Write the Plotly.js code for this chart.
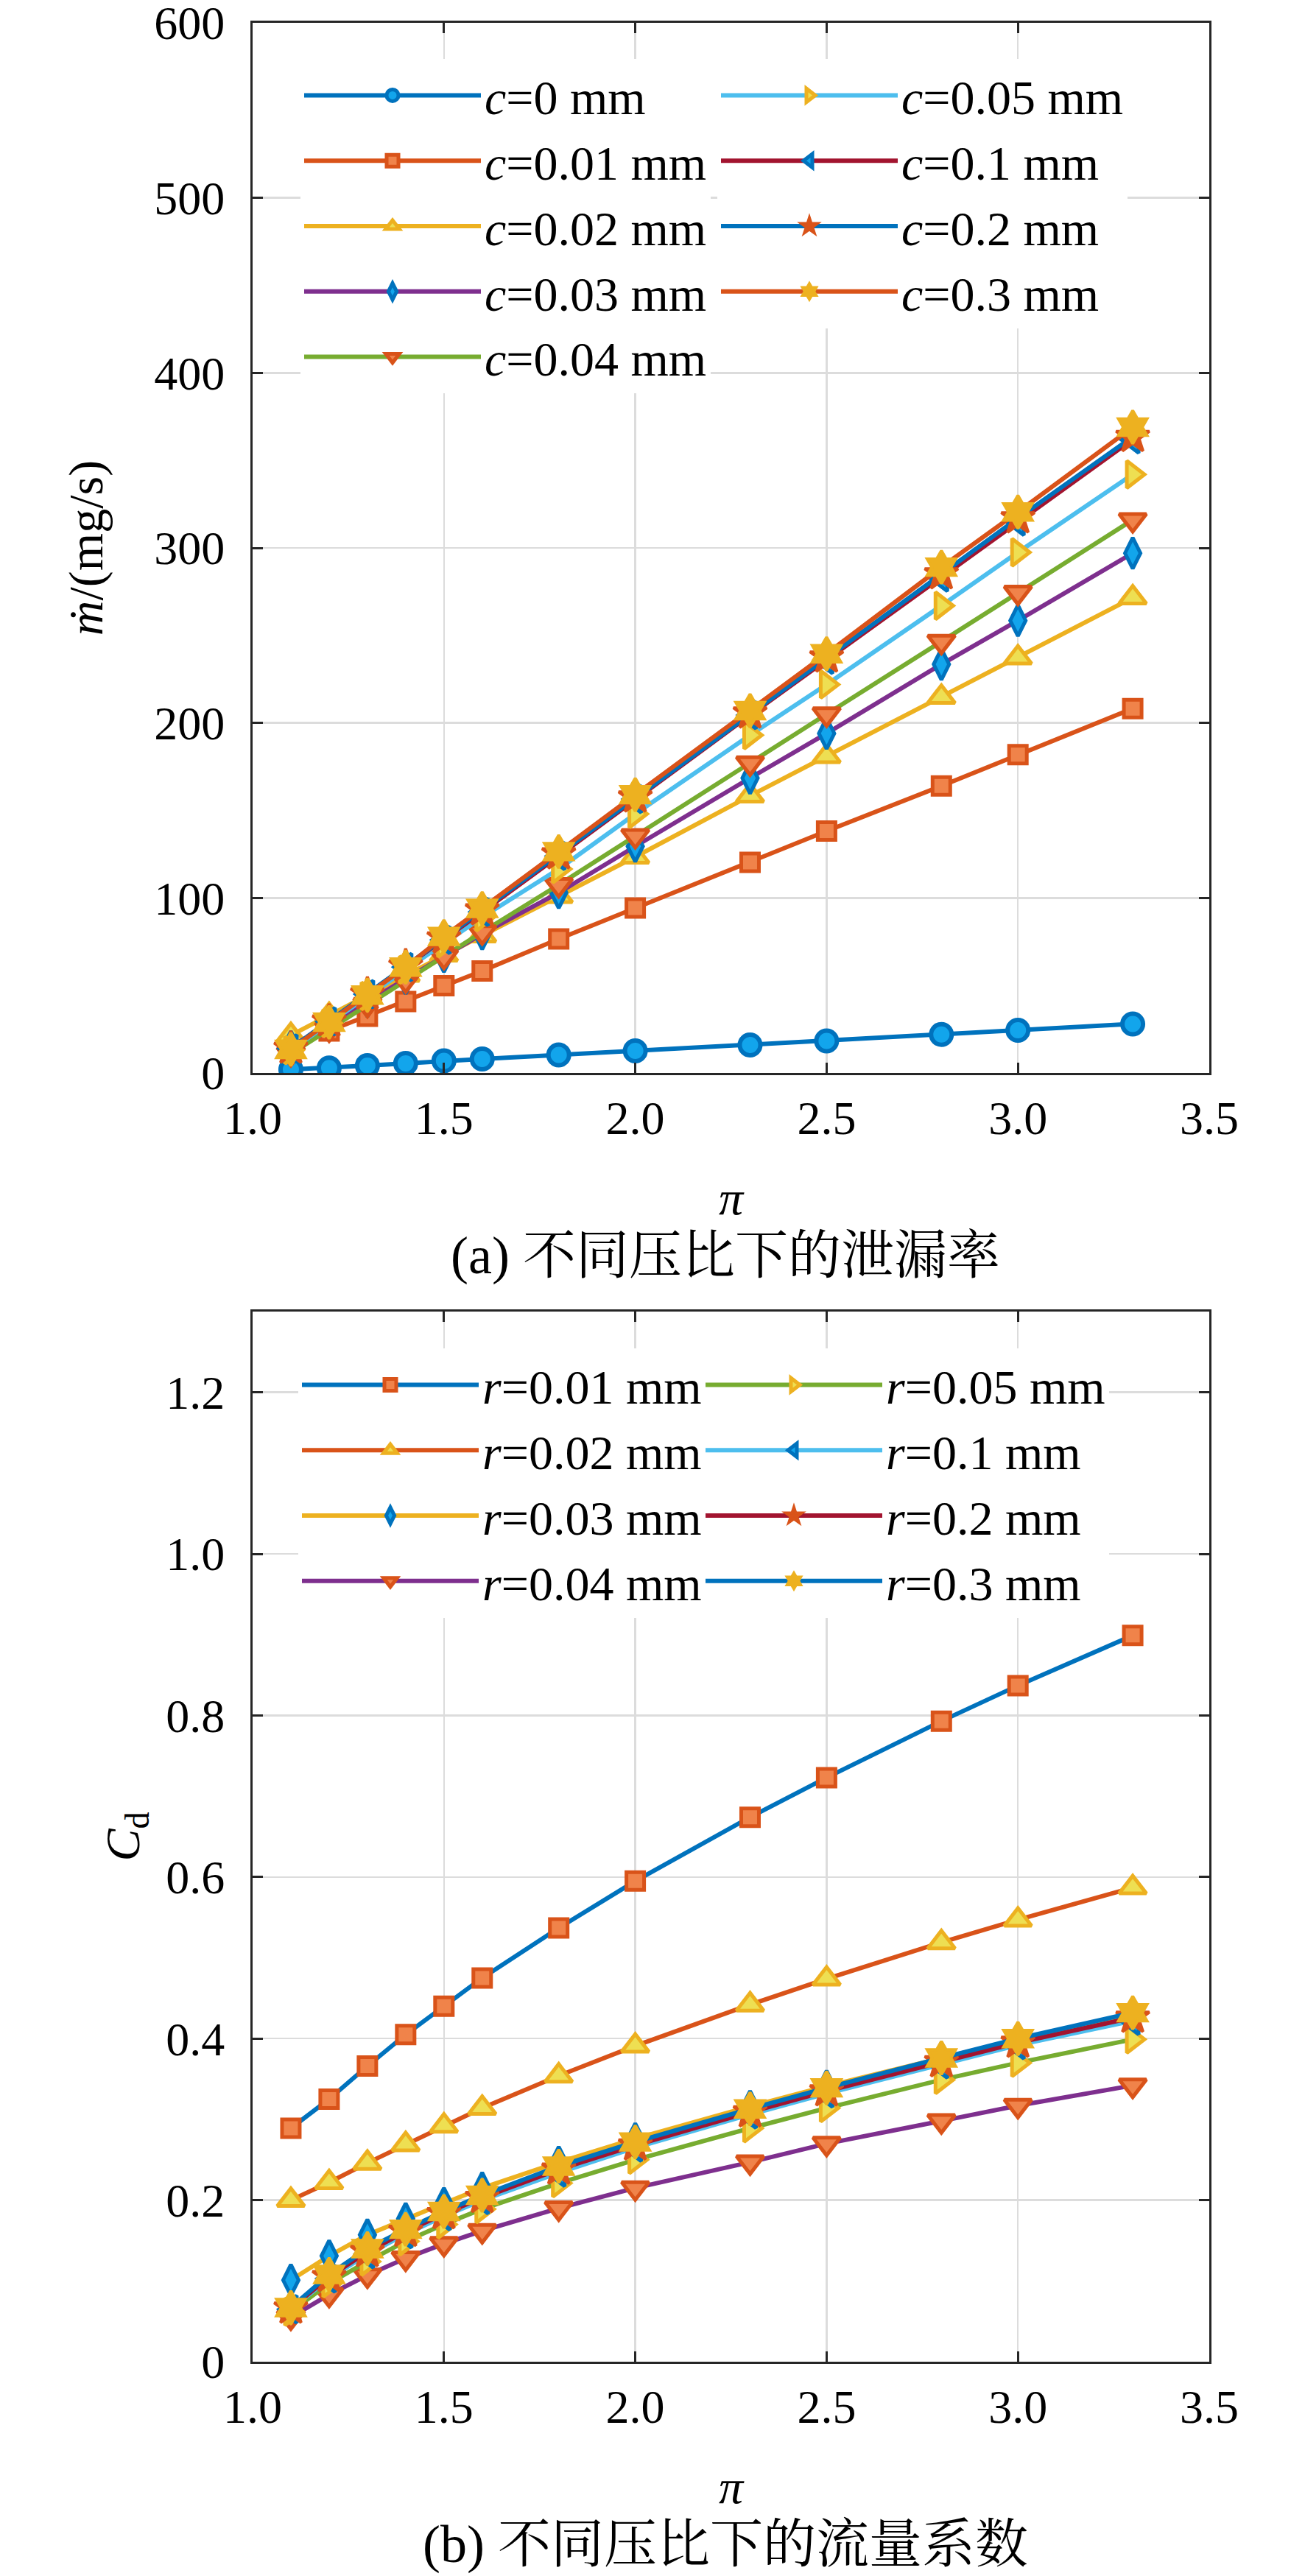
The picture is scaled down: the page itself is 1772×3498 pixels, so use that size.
<!DOCTYPE html>
<html>
<head>
<meta charset="utf-8">
<script src="https://cdn.plot.ly/plotly-3.0.1.min.js"></script>
<style>html,body{margin:0;padding:0;background:#fff;}</style>
</head>
<body>
<div id="chart" style="width:1772px;height:3498px;"></div>
<script>
// ---------- data ----------
const piVals = [1.1, 1.2, 1.3, 1.4, 1.5, 1.6, 1.8, 2.0, 2.3, 2.5, 2.8, 3.0, 3.3];

// (a) leakage rate, mg/s
const leakNames = ['<i>c</i>=0 mm','<i>c</i>=0.01 mm','<i>c</i>=0.02 mm','<i>c</i>=0.03 mm','<i>c</i>=0.04 mm',
                   '<i>c</i>=0.05 mm','<i>c</i>=0.1 mm','<i>c</i>=0.2 mm','<i>c</i>=0.3 mm'];
const leak_c0    = [2.0, 2.8, 4.2, 5.5, 6.9, 8.0, 10.3, 12.6, 16.0, 18.3, 22.0, 24.4, 28.0];
const leak_c001  = [15.5, 24, 32.4, 40.8, 49.9, 58.3, 76.6, 94.3, 120.3, 138.2, 164.0, 181.9, 208.2];
const leak_c002  = [21.5, 33, 44.5, 56, 67.5, 78.5, 101, 123.5, 158.4, 180.9, 214.8, 237.3, 271.6];
const leak_c003  = [15, 28, 41, 54, 66.5, 79.5, 103, 129.5, 168.5, 194, 233.5, 258.5, 297];
const leak_c004  = [11, 25, 39, 53, 66.5, 80.5, 107.5, 135.5, 177, 205, 246.5, 274.5, 316];
const leak_c005  = [13, 28.5, 44, 59, 74, 89, 116.5, 148, 193, 222, 267, 297.5, 342];
const leak_c01   = [14, 29.5, 45, 60.5, 76, 92, 124, 156.5, 204.5, 236, 283, 315, 362];
const leak_c02   = [14, 29.5, 45, 61, 77, 93, 125, 157.5, 205.5, 237.5, 285, 317, 363.5];
const leak_c03   = [13.5, 29, 44.5, 60.5, 78, 94, 126.5, 159, 207, 239.5, 289, 320.5, 369];

// (b) discharge coefficient
const cdNames = ['<i>r</i>=0.01 mm','<i>r</i>=0.02 mm','<i>r</i>=0.03 mm','<i>r</i>=0.04 mm',
                 '<i>r</i>=0.05 mm','<i>r</i>=0.1 mm','<i>r</i>=0.2 mm','<i>r</i>=0.3 mm'];
const cd_r001 = [0.289, 0.325, 0.366, 0.405, 0.440, 0.475, 0.537, 0.595, 0.674, 0.723, 0.793, 0.837, 0.899];
const cd_r002 = [0.200, 0.222, 0.246, 0.269, 0.292, 0.314, 0.354, 0.391, 0.442, 0.474, 0.519, 0.547, 0.587];
const cd_r003 = [0.101, 0.131, 0.157, 0.177, 0.196, 0.215, 0.247, 0.276, 0.316, 0.341, 0.376, 0.399, 0.430];
const cd_r004 = [0.055, 0.083, 0.107, 0.128, 0.146, 0.162, 0.190, 0.215, 0.247, 0.270, 0.298, 0.317, 0.342];
const cd_r005 = [0.062, 0.097, 0.124, 0.149, 0.170, 0.189, 0.221, 0.250, 0.289, 0.314, 0.349, 0.370, 0.399];
const cd_r01  = [0.065, 0.103, 0.133, 0.158, 0.180, 0.200, 0.234, 0.265, 0.306, 0.332, 0.368, 0.392, 0.422];
const cd_r02  = [0.066, 0.105, 0.136, 0.161, 0.183, 0.203, 0.238, 0.268, 0.309, 0.335, 0.371, 0.395, 0.426];
const cd_r03  = [0.067, 0.108, 0.140, 0.164, 0.186, 0.206, 0.242, 0.272, 0.313, 0.339, 0.376, 0.400, 0.432];

const xTickVals = [1.0, 1.5, 2.0, 2.5, 3.0, 3.5];
const xTickText = ['1.0', '1.5', '2.0', '2.5', '3.0', '3.5'];
const y1TickVals = [0, 100, 200, 300, 400, 500, 600];
const y2TickVals = [0, 0.2, 0.4, 0.6, 0.8, 1.0, 1.2];
const y2TickText = ['0', '0.2', '0.4', '0.6', '0.8', '1.0', '1.2'];

// ---------- styles ----------
const C = {B:'#0072BD', O:'#D95319', Y:'#EDB120', P:'#7E2F8E', G:'#77AC30', LB:'#4DBEEE', DR:'#A2142F'};
const FACE = {B:'#12A5EC', O:'#F0834A', Y:'#EEDF52'};
const MK = {
  circle:   {symbol:'circle', size:28, lw:6},
  square:   {symbol:'square', size:24, lw:5},
  tup:      {symbol:'triangle-up', size:32, lw:5},
  diamond:  {symbol:'diamond-tall', size:30, lw:5},
  tdown:    {symbol:'triangle-down', size:32, lw:5},
  tright:   {symbol:'triangle-right', size:32, lw:5},
  tleft:    {symbol:'triangle-left', size:32, lw:5},
  star:     {symbol:'star', size:34, lw:4, solid:true},
  hexagram: {symbol:'hexagram', size:34, lw:4, solid:true}
};
const LINE_W = 6;

function tr(y, name, lineCol, mk, mcol, xa, ya, leg) {
  return {
    x: piVals, y: y, name: name, type: 'scatter', mode: 'lines+markers',
    xaxis: xa, yaxis: ya, legend: leg,
    line: {color: lineCol, width: LINE_W},
    marker: {symbol: mk.symbol, size: mk.size, color: mk.solid ? C[mcol] : FACE[mcol],
             line: {color: C[mcol], width: mk.lw}}
  };
}

const leakY = [leak_c0, leak_c001, leak_c002, leak_c003, leak_c004, leak_c005, leak_c01, leak_c02, leak_c03];
const leakLine = [C.B, C.O, C.Y, C.P, C.G, C.LB, C.DR, C.B, C.O];
const leakMk = [MK.circle, MK.square, MK.tup, MK.diamond, MK.tdown, MK.tright, MK.tleft, MK.star, MK.hexagram];
const leakMc = ['B','O','Y','B','O','Y','B','O','Y'];

const cdY = [cd_r001, cd_r002, cd_r003, cd_r004, cd_r005, cd_r01, cd_r02, cd_r03];
const cdLine = [C.B, C.O, C.Y, C.P, C.G, C.LB, C.DR, C.B];
const cdMk = [MK.square, MK.tup, MK.diamond, MK.tdown, MK.tright, MK.tleft, MK.star, MK.hexagram];
const cdMc = ['O','Y','B','O','Y','B','O','Y'];

const data = [];
leakY.forEach((y, i) => data.push(tr(y, leakNames[i], leakLine[i], leakMk[i], leakMc[i], 'x', 'y', i < 5 ? 'legend' : 'legend2')));
cdY.forEach((y, i) => data.push(tr(y, cdNames[i], cdLine[i], cdMk[i], cdMc[i], 'x2', 'y2', i < 4 ? 'legend3' : 'legend4')));

// ---------- layout ----------
const W = 1772, H = 3498;
const px = v => v / W, py = v => 1 - v / H;
const SERIF = 'Liberation Serif, Times New Roman, serif';
const CJK = 'Liberation Serif, Noto Serif CJK SC, Noto Sans CJK SC, serif';
const AX = '#262626';

function xAxis(anchor) {
  return {
    anchor: anchor, domain: [px(343), px(1642)], range: [1, 3.5],
    tickvals: xTickVals, ticktext: xTickText,
    ticks: 'inside', ticklen: 14, tickwidth: 3, tickcolor: AX,
    showline: true, linewidth: 3, linecolor: AX, mirror: 'ticks',
    showgrid: true, gridcolor: '#dcdcdc', gridwidth: 2.5, zeroline: false,
    tickfont: {family: SERIF, size: 64, color: '#000'},
    ticklabelstandoff: 3, ticklabeloverflow: 'allow',
    title: {text: '<i>π</i>', font: {family: SERIF, size: 66, color: '#000'}, standoff: 51}
  };
}
function yAxis(anchor, dom, range, tv, tt, title, standoff) {
  const a = {
    anchor: anchor, domain: dom, range: range, tickvals: tv,
    ticks: 'inside', ticklen: 14, tickwidth: 3, tickcolor: AX,
    showline: true, linewidth: 3, linecolor: AX, mirror: 'ticks',
    showgrid: true, gridcolor: '#dcdcdc', gridwidth: 2.5, zeroline: false,
    tickfont: {family: SERIF, size: 64, color: '#000'},
    ticklabelstandoff: 22, ticklabeloverflow: 'allow',
    title: {text: title, font: {family: SERIF, size: 66, color: '#000'}, standoff: standoff}
  };
  if (tt) a.ticktext = tt;
  return a;
}
function legend(xpx, ypx) {
  return {
    x: px(xpx), y: py(ypx), xanchor: 'left', yanchor: 'top',
    bgcolor: '#fff', borderwidth: 0, itemwidth: 240,
    font: {family: SERIF, size: 66, color: '#000'},
    tracegroupgap: 0
  };
}

const layout = {
  width: W, height: H, margin: {l: 0, r: 0, t: 0, b: 0},
  paper_bgcolor: '#fff', plot_bgcolor: '#fff',
  showlegend: true,
  xaxis: xAxis('y'),
  yaxis: yAxis('x', [py(1457), py(31)], [0, 600], y1TickVals, null, '<i>ṁ</i>/(mg/s)', 49),
  xaxis2: xAxis('y2'),
  yaxis2: yAxis('x2', [py(3207), py(1781)], [0, 1.3], y2TickVals, y2TickText, '<i>C</i><sub>d</sub>', 15),
  legend: legend(408, 80),
  legend2: legend(974, 80),
  legend3: legend(405, 1831),
  legend4: legend(953, 1831),
  annotations: [
    {text: '(a) 不同压比下的泄漏率', xref: 'paper', yref: 'paper', x: px(985), y: py(1705),
     xanchor: 'center', yanchor: 'middle', showarrow: false, font: {family: CJK, size: 72, color: '#000'}},
    {text: '(b) 不同压比下的流量系数', xref: 'paper', yref: 'paper', x: px(985), y: py(3455),
     xanchor: 'center', yanchor: 'middle', showarrow: false, font: {family: CJK, size: 72, color: '#000'}}
  ]
};

Plotly.newPlot('chart', data, layout, {staticPlot: true, displayModeBar: false});
</script>
</body>
</html>
